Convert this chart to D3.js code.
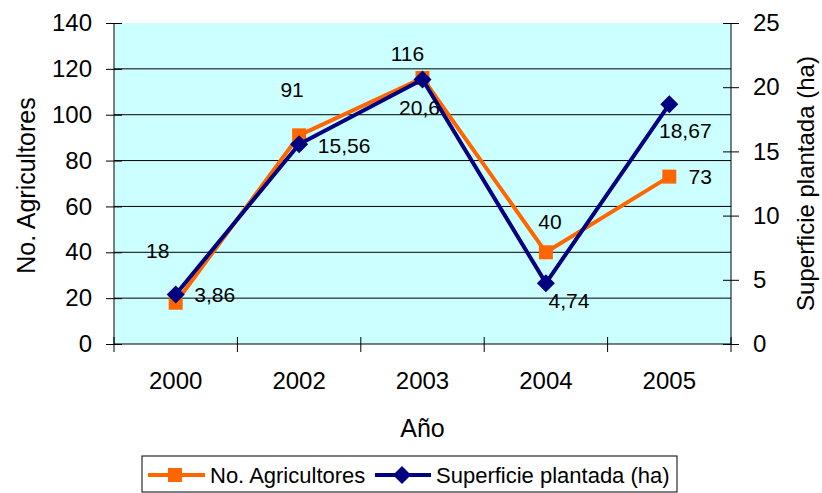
<!DOCTYPE html>
<html><head><meta charset="utf-8">
<script src="https://cdn.jsdelivr.net/npm/d3@7/dist/d3.min.js"></script>
<style>body{margin:0;background:#fff}svg{display:block;font-family:"Liberation Sans",Arial,sans-serif}</style>
</head><body><svg id="c" width="822" height="493"></svg>
<script>
const years = ["2000","2002","2003","2004","2005"];
const agricultores = [18, 91, 116, 40, 73];
const superficie = [3.86, 15.56, 20.6, 4.74, 18.67];
const superficieLabels = ["3,86","15,56","20,6","4,74","18,67"];
const leftTicks = [0,20,40,60,80,100,120,140];
const rightTicks = [0,5,10,15,20,25];

const svg = d3.select("#c");
const L=114, R=731, T=23, B=344;
const x = d3.scaleBand().domain(years).range([L,R]);
const yL = d3.scaleLinear().domain([0,140]).range([B,T]);
const yR = d3.scaleLinear().domain([0,25]).range([B,T]);
const cx = d => x(d)+x.bandwidth()/2;

svg.append("rect").attr("x",L).attr("y",T).attr("width",R-L).attr("height",B-T).attr("fill","#CCFFFF");
// gridlines
svg.append("g").selectAll("line").data(leftTicks.filter(v=>v>0&&v<140)).join("line")
  .attr("x1",L).attr("x2",R).attr("y1",d=>yL(d)).attr("y2",d=>yL(d)).attr("stroke","#000").attr("stroke-width",1);

// left axis
const gl = svg.append("g").attr("transform",`translate(${L},0)`)
  .call(d3.axisLeft(yL).tickValues(leftTicks).tickSize(8).tickPadding(14));
gl.selectAll(".tick line").attr("x2",-8).attr("x1",8);
// right axis
const gr = svg.append("g").attr("transform",`translate(${R},0)`)
  .call(d3.axisRight(yR).tickValues(rightTicks).tickSize(8).tickPadding(14));
gr.selectAll(".tick line").attr("x1",-8);
// bottom axis
const gb = svg.append("g").attr("transform",`translate(0,${B})`)
  .call(d3.axisBottom(x).tickSize(0).tickPadding(28));
const bounds = years.map(d=>x(d)).concat([R]);
svg.append("g").selectAll("line").data(bounds).join("line")
  .attr("x1",d=>d).attr("x2",d=>d).attr("y1",B-7).attr("y2",B+8).attr("stroke","#000");
[gl,gr,gb].forEach(g=>{
  g.select(".domain").attr("stroke","#000").attr("stroke-width",1);
  g.selectAll(".tick line").attr("stroke","#000");
  g.selectAll("text").attr("font-size",24).attr("fill","#000").attr("font-family","Liberation Sans, Arial, sans-serif");
});
gl.select(".domain").attr("d",`M0,${T}V${B}`);
gr.select(".domain").attr("d",`M0,${T}V${B}`);
gb.select(".domain").attr("d",`M${L},0H${R}`);

// lines
const lineA = d3.line().x((d,i)=>cx(years[i])).y(d=>yL(d));
const lineS = d3.line().x((d,i)=>cx(years[i])).y(d=>yR(d));
svg.append("path").attr("d",lineA(agricultores)).attr("fill","none").attr("stroke","#FF6600").attr("stroke-width",4).attr("stroke-linejoin","round");
svg.append("g").selectAll("rect").data(agricultores).join("rect")
  .attr("x",(d,i)=>cx(years[i])-7).attr("y",d=>yL(d)-7).attr("width",14).attr("height",14).attr("fill","#FF6600");
svg.append("path").attr("d",lineS(superficie)).attr("fill","none").attr("stroke","#000080").attr("stroke-width",4).attr("stroke-linejoin","round");
const diamond = (X,Y,s)=>`M${X},${Y-s}L${X+s},${Y}L${X},${Y+s}L${X-s},${Y}Z`;
svg.append("g").selectAll("path").data(superficie).join("path")
  .attr("d",(d,i)=>diamond(cx(years[i]),yR(d),9)).attr("fill","#000080");

// data labels
const aOff = [[-18,-52],[-7,-46],[-15,-25],[4,-31],[31,0]];
svg.append("g").selectAll("text").data(agricultores).join("text")
  .attr("x",(d,i)=>cx(years[i])+aOff[i][0]).attr("y",(d,i)=>yL(d)+aOff[i][1])
  .attr("text-anchor","middle").attr("dominant-baseline","central").attr("font-size",21).text(d=>d);
const sOff = [[39,0],[45,1],[-3,28],[23,17],[16,26]];
svg.append("g").selectAll("text").data(superficie).join("text")
  .attr("x",(d,i)=>cx(years[i])+sOff[i][0]).attr("y",(d,i)=>yR(d)+sOff[i][1])
  .attr("text-anchor","middle").attr("dominant-baseline","central").attr("font-size",21).text((d,i)=>superficieLabels[i]);

// axis titles
svg.append("text").attr("x",(L+R)/2).attr("y",428).attr("text-anchor","middle").attr("dominant-baseline","central").attr("font-size",25).text("Año");
svg.append("text").attr("transform",`translate(26,${(T+B)/2+2}) rotate(-90)`).attr("text-anchor","middle").attr("dominant-baseline","central").attr("font-size",25).text("No. Agricultores");
svg.append("text").attr("transform",`translate(805,${(T+B)/2}) rotate(-90)`).attr("text-anchor","middle").attr("dominant-baseline","central").attr("font-size",24).text("Superficie plantada (ha)");

// legend
const lg = svg.append("g");
lg.append("rect").attr("x",142).attr("y",456).attr("width",535).attr("height",36).attr("fill","#fff").attr("stroke","#000");
lg.append("line").attr("x1",148).attr("x2",205).attr("y1",475).attr("y2",475).attr("stroke","#FF6600").attr("stroke-width",4);
lg.append("rect").attr("x",168).attr("y",468).attr("width",14).attr("height",14).attr("fill","#FF6600");
lg.append("text").attr("x",210).attr("y",475).attr("dominant-baseline","central").attr("font-size",22).text("No. Agricultores");
lg.append("line").attr("x1",375).attr("x2",431).attr("y1",475).attr("y2",475).attr("stroke","#000080").attr("stroke-width",4);
lg.append("path").attr("d",diamond(402,475,9)).attr("fill","#000080");
lg.append("text").attr("x",436).attr("y",475).attr("dominant-baseline","central").attr("font-size",22).text("Superficie plantada (ha)");
</script></body></html>
